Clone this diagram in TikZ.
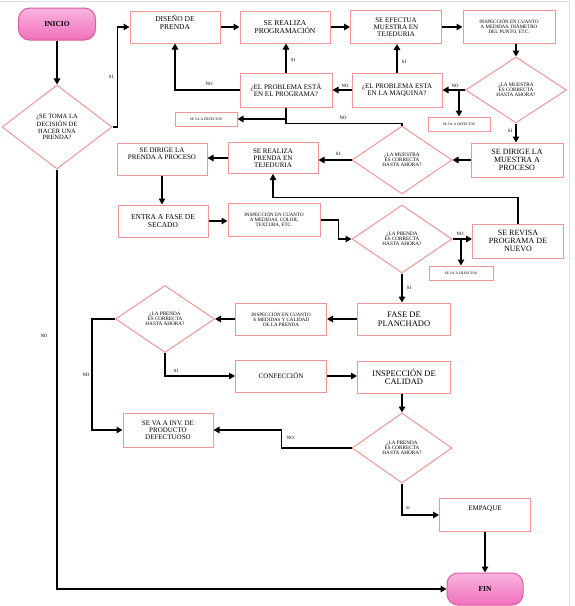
\documentclass[tikz,border=0pt]{standalone}
\usepackage{fontspec}
\setmainfont{Liberation Serif}
\usetikzlibrary{arrows.meta,shapes.geometric}
\definecolor{bord}{RGB}{240,150,150}
\definecolor{pinkA}{RGB}{250,180,222}
\definecolor{pinkB}{RGB}{240,112,188}
\definecolor{pinkD}{RGB}{222,92,162}
\newcommand{\fs}[1]{\fontsize{#1}{#1}\selectfont}
\begin{document}
\begin{tikzpicture}[x=1pt,y=-1pt,
  box/.style={draw=bord, line width=1pt, fill=white, minimum width=90pt, minimum height=32pt,
    inner sep=1pt, align=center, font=\fs{7.5}},
  tiny/.style={box, minimum width=62pt, minimum height=14pt, font=\fs{3.6}},
  dia/.style={draw=bord, line width=1pt, fill=white, diamond, aspect=1.5, inner sep=0pt,
    align=center, font=\fs{5.2}},
  term/.style={draw=pinkD, line width=1pt, top color=pinkA, bottom color=pinkB, rounded corners=11pt,
    minimum width=77pt, minimum height=32pt, font=\bfseries\fs{7.5}},
  conn/.style={line width=1.7pt, -{Triangle[length=6pt,width=6.5pt]}},
  plain/.style={line width=1.7pt},
  lbl/.style={font=\fs{4.8}, inner sep=0pt}
]
\useasboundingbox (0,0) rectangle (574,606);
\draw[gray!25, line width=1.5pt] (0,1.5) -- (569.5,1.5) -- (569.5,606);

% nodes
\node[term] (inicio) at (57,24) {INICIO};
\node[dia, minimum width=110pt, minimum height=84pt, font=\fs{6.5}] (d1) at (57,127)
  {¿SE TOMA LA\\DECISIÓN DE\\HACER UNA\\PRENDA?};
\node[box] (disenio) at (175,27) {DISEÑO DE\\PRENDA\\[2pt]};
\node[box] (prog) at (285,27) {SE REALIZA\\PROGRAMACIÓN};
\node[box, minimum width=91pt, minimum height=33pt, font=\fs{7}] (muestra) at (396,27)
  {SE EFECTUA\\MUESTRA EN\\TEJEDURIA};
\node[box, minimum width=92pt, minimum height=33pt, font=\fs{5}] (insp1) at (509,27)
  {INSPECCIÓN EN CUANTO\\A MEDIDAS, DIÁMETRO\\DEL PUNTO, ETC.};
\node[dia, minimum width=101pt, minimum height=66pt] (d2) at (516,90)
  {¿LA MUESTRA\\ES CORRECTA\\HASTA AHORA?};
\node[box, minimum height=34pt, font=\fs{7}] (maq) at (397,90) {¿EL PROBLEMA ESTA\\EN LA MAQUINA?};
\node[box, minimum width=92pt, minimum height=34pt, font=\fs{7}] (progq) at (286,90)
  {¿EL PROBLEMA ESTÁ\\EN EL PROGRAMA?};
\node[tiny] (def1) at (459,124) {SE VA A DEFECTOS};
\node[tiny] (def2) at (206,119) {SE VA A DEFECTOS};
\node[dia, minimum width=100pt, minimum height=68pt] (d3) at (402,160)
  {¿LA MUESTRA\\ES CORRECTA\\HASTA AHORA?};
\node[box, minimum width=92pt, minimum height=34pt, font=\fs{8}] (dirm) at (517,160)
  {SE DIRIGE LA\\MUESTRA A\\PROCESO};
\node[box, minimum height=31pt, font=\fs{7}] (tej) at (273,158) {SE REALIZA\\PRENDA EN\\TEJEDURIA};
\node[box, font=\fs{7}] (dirp) at (162,159) {SE DIRIGE LA\\PRENDA A PROCESO\\[3pt]};
\node[box] (secado) at (163,221) {ENTRA A FASE DE\\SECADO};
\node[box, minimum width=92pt, minimum height=33pt, font=\fs{5}] (insp2) at (274,220)
  {INSPECCIÓN EN CUANTO\\A MEDIDAS, COLOR,\\TEXTURA, ETC.};
\node[dia, minimum width=100pt, minimum height=68pt] (d4) at (402,239)
  {¿LA PRENDA\\ES CORRECTA\\HASTA AHORA?};
\node[box, minimum width=91pt, minimum height=34pt, font=\fs{8}] (revisa) at (518,241)
  {SE REVISA\\PROGRAMA DE\\NUEVO};
\node[tiny, minimum width=64pt] (def3) at (461,273) {SE VA A DEFECTOS};
\node[box, minimum width=93pt, font=\fs{8.5}] (planch) at (404,319) {FASE DE\\PLANCHADO};
\node[box, minimum width=91pt, font=\fs{5}] (insp3) at (281,319)
  {INSPECCIÓN EN CUANTO\\A MEDIDAS Y CALIDAD\\DE LA PRENDA};
\node[dia, minimum width=99pt, minimum height=67pt] (d5) at (165,319)
  {¿LA PRENDA\\ES CORRECTA\\HASTA AHORA?};
\node[box, minimum width=91pt, font=\fs{7}] (confec) at (281,376) {CONFECCIÓN};
\node[box, minimum width=93pt, font=\fs{8.5}] (inspc) at (404,377) {INSPECCIÓN DE\\CALIDAD};
\node[dia, minimum width=100pt, minimum height=70pt] (d6) at (402,448)
  {¿LA PRENDA\\ES CORRECTA\\HASTA AHORA?};
\node[box, minimum height=34pt, font=\fs{7}] (defect) at (168,430)
  {SE VA A INV. DE\\PRODUCTO\\DEFECTUOSO};
\node[box, minimum width=91pt, minimum height=33pt, font=\fs{7}] (empaque) at (485,515) {EMPAQUE\\[6pt]};
\node[term, minimum width=76pt] (fin) at (485,589) {FIN};

% connectors
\draw[conn] (inicio) -- (d1);
\draw[conn] (d1.east) -- ++(5,0) |- (disenio.west);
\node[lbl] (l1) at (111,77) {SI};
\draw[conn] (disenio) -- (prog);
\draw[conn] (prog) -- (muestra);
\draw[conn] (muestra) -- (insp1);
\draw[conn] (d2.north |- insp1.south) -- (d2.north);
\draw[conn] (d2.west) -- (maq.east);
\node[lbl] (l2) at (455,86) {NO};
\draw[conn] (def1.north |- d2.west) -- (def1.north);
\draw[conn] (maq.north) -- (maq.north |- muestra.south);
\node[lbl] (l3) at (404,62) {SI};
\draw[conn] (maq.west) -- (progq.east);
\node[lbl] (l4) at (345,86) {NO};
\draw[conn] (progq.north) -- (progq.north |- prog.south);
\node[lbl] (l5) at (293,60) {SI};
\draw[conn] (progq.west) -| (disenio.south);
\node[lbl] (l6) at (209,84) {NO};
\draw[plain] (d3.north) -- ++(0,-2) -| (progq.south);
\node[lbl] (l7) at (343,118) {NO};
\draw[conn] (progq.south |- def2.east) -- (def2.east);
\draw[conn] (d2.south) -- (d2.south |- dirm.north);
\node[lbl] (l8) at (510,131) {SI};
\draw[conn] (dirm.west) -- (d3.east);
\draw[conn] (d3.west) -- (d3.west -| tej.east);
\node[lbl] (l9) at (338,154) {SI};
\draw[conn] (tej.west) -- (tej.west -| dirp.east);
\draw[conn] (dirp.south) -- (dirp.south |- secado.north);
\draw[conn] (secado.east) -- (secado.east -| insp2.west);
\draw[conn] (insp2.east) -- ++(18,0) |- (d4.west);
\draw[conn] (d4.east) -- (d4.east -| revisa.west);
\node[lbl] (l10) at (460,234) {NO};
\draw[conn] (def3.north |- d4.east) -- (def3.north);
\draw[conn, line width=1.1pt] (revisa.north) -- ++(0,-26) -| (tej.south);
\draw[conn] (d4.south) -- (d4.south |- planch.north);
\node[lbl] (l11) at (409,288) {SI};
\draw[conn] (planch.west) -- (insp3.east);
\draw[conn] (insp3.west) -- (d5.east);
\draw[conn] (d5.west) -- ++(-23,0) |- (defect.west);
\node[lbl] (l12) at (86,375) {NO};
\draw[conn] (d5.south) |- (confec.west);
\node[lbl] (l13) at (176,371) {SI};
\draw[conn] (confec.east) -- (confec.east -| inspc.west);
\draw[conn] (d6.north |- inspc.south) -- (d6.north);
\draw[conn] (d6.west) -- ++(-70,0) |- (defect.east);
\node[lbl] (l14) at (291,438) {NO.};
\draw[conn] (d6.south) |- (empaque.west);
\node[lbl, font=\fs{4}] (l15) at (408,508) {SI};
\draw[conn] (empaque.south) -- (fin.north);
\draw[conn] (d1.south) |- (fin.west);
\node[lbl] (l16) at (44,336) {NO};
\end{tikzpicture}
\end{document}
